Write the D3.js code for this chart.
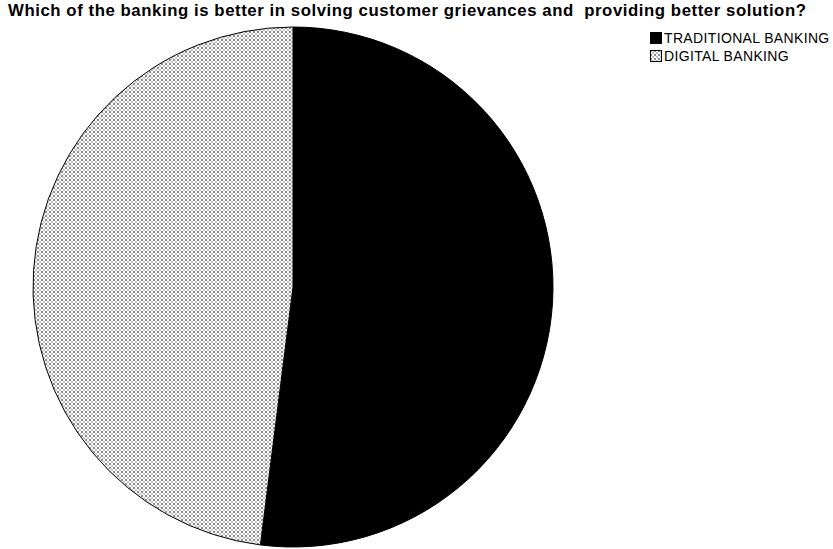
<!DOCTYPE html>
<html>
<head>
<meta charset="utf-8">
<script src="https://cdn.jsdelivr.net/npm/d3@7"></script>
<style>
  body { margin: 0; background: #fff; }
  svg { display: block; }
</style>
</head>
<body>
<svg id="chart" width="833" height="549"></svg>
<script>
// Survey answers: which kind of banking handles grievances better
const categories = ["TRADITIONAL BANKING", "DIGITAL BANKING"];
const values = [52, 48];
const titleText = "Which of the banking is better in solving customer grievances and  providing better solution?";

const svg = d3.select("#chart");

// Dotted fill for the second slice
const defs = svg.append("defs");
const pat = defs.append("pattern")
  .attr("id", "dots")
  .attr("patternUnits", "userSpaceOnUse")
  .attr("width", 4).attr("height", 4);
pat.append("rect").attr("width", 4).attr("height", 4).attr("fill", "#fff");
pat.append("rect").attr("x", 0).attr("y", 0).attr("width", 2).attr("height", 2).attr("fill", "#8c8c8c");
pat.append("rect").attr("x", 2).attr("y", 2).attr("width", 2).attr("height", 2).attr("fill", "#c4c4c4");

const fills = d3.scaleOrdinal().domain(categories).range(["#000", "url(#dots)"]);

// Title
svg.append("text")
  .attr("x", 8).attr("y", 16)
  .attr("font-family", "Arial, 'Liberation Sans', sans-serif")
  .attr("font-size", 16.8)
  .attr("font-weight", "bold")
  .attr("fill", "#000")
  .attr("textLength", 798)
  .attr("lengthAdjust", "spacing")
  .style("white-space", "pre")
  .text(titleText);

// Pie
const cx = 293, cy = 287, r = 260;
const pie = d3.pie().sort(null).value(d => d.v);
const arc = d3.arc().innerRadius(0).outerRadius(r);
const data = categories.map((c, i) => ({ c, v: values[i] }));

svg.append("g")
  .attr("transform", `translate(${cx},${cy})`)
  .selectAll("path")
  .data(pie(data))
  .join("path")
  .attr("d", arc)
  .attr("fill", d => fills(d.data.c))
  .attr("stroke", "#000")
  .attr("stroke-width", 1);

// Legend
const legend = svg.append("g").attr("transform", "translate(650,32)");
const items = legend.selectAll("g")
  .data(categories)
  .join("g")
  .attr("transform", (d, i) => `translate(0,${i * 18})`);
items.append("rect")
  .attr("x", 0.5).attr("y", 0.5)
  .attr("width", 11).attr("height", 11)
  .attr("fill", d => fills(d))
  .attr("stroke", "#000");
items.append("text")
  .attr("x", 14).attr("y", 11)
  .attr("font-family", "Arial, 'Liberation Sans', sans-serif")
  .attr("font-size", 14)
  .attr("letter-spacing", 0.35)
  .attr("fill", "#000")
  .text(d => d);
</script>
</body>
</html>
